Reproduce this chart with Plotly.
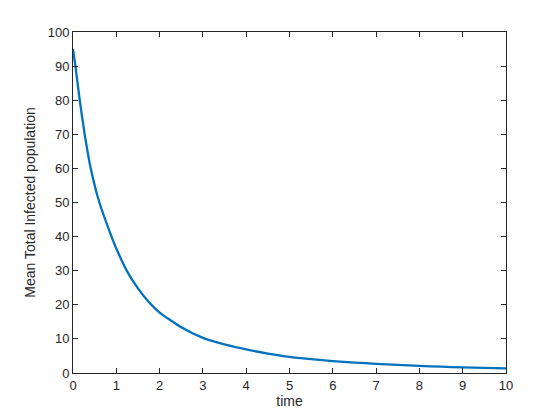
import plotly.graph_objects as go

# values
time = [0, 0.056, 0.155, 0.27, 0.41, 0.61, 0.89, 1.0, 1.25, 1.5, 1.75, 2.0, 2.5, 3.0,
        3.5, 4.0, 4.5, 5.0, 5.5, 6.0, 6.5, 7.0, 7.5, 8.0, 8.5, 9.0, 9.5, 10.0]
infected = [95, 90, 80, 70, 60, 50, 40, 36.5, 29.8, 24.8, 20.8, 17.7, 13.4, 10.3,
            8.4, 6.9, 5.7, 4.7, 4.05, 3.5, 3.05, 2.7, 2.4, 2.1, 1.85, 1.65, 1.5, 1.35]

x_ticks = list(range(0, 11))
y_ticks = list(range(0, 101, 10))

fig = go.Figure()
fig.add_trace(go.Scatter(x=time, y=infected, mode="lines",
                         line=dict(color="#0072BD", width=2.3, shape="spline", smoothing=0.5),
                         showlegend=False))

font = "Liberation Sans, Arial"
axis_style = dict(showline=True, mirror="ticks", linecolor="#262626", linewidth=1,
                  ticks="inside", ticklen=5, tickcolor="#262626", showgrid=False,
                  zeroline=False, automargin=False,
                  tickfont=dict(family=font, size=13, color="#262626"))

fig.update_xaxes(range=[0, 10], tickvals=x_ticks, title=dict(text="time", standoff=4,
                 font=dict(family=font, size=14, color="#262626")), **axis_style)
fig.update_yaxes(range=[0, 100], tickvals=y_ticks, title=dict(text="Mean Total Infected population", standoff=8,
                 font=dict(family=font, size=14, color="#262626")), **axis_style)

# page body adds an 8px offset, so the figure is sized to fit inside it
fig.update_layout(width=552, height=412, margin=dict(l=65, r=54, t=24, b=47),
                  plot_bgcolor="white", paper_bgcolor="white")

fig.write_html("out.html")
